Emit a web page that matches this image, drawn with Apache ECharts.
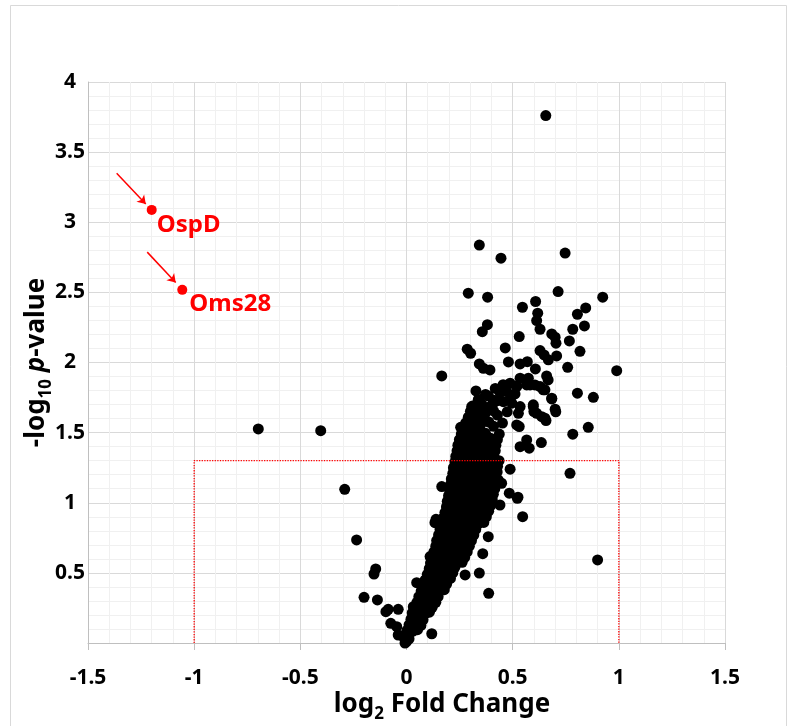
<!DOCTYPE html>
<html><head><meta charset="utf-8">
<script src="https://cdn.jsdelivr.net/npm/echarts@6/dist/echarts.min.js"></script>
<style>html,body{margin:0;padding:0;background:#fff}#chart{width:788px;height:726px}</style>
</head><body><div id="chart"></div>
<script>
// ---------------- DATA ----------------
const xRange = [-1.5, 1.5];
const yRange = [0, 4];
const tickStep = 0.5;

// highlighted proteins
const redNames = ['OspD', 'Oms28'];
const redX = [-1.20, -1.056];
const redY = [3.088, 2.518];
// annotation arrows (data coordinates)
const arrowFrom = [[-1.365, 3.35], [-1.221, 2.787]];
const arrowTo = [[-1.228, 3.13], [-1.087, 2.57]];

// significance box (p = 0.05, |log2FC| = 1)
const boxPath = [[-1, 0], [-1, 1.3], [1, 1.3], [1, 0]];

// isolated proteins
const outlierPoints = [
  [0.656,3.761],[0.343,2.837],[0.445,2.744],[0.747,2.78],
  [0.291,2.494],[0.382,2.466],[0.714,2.506],[0.924,2.466],[0.608,2.435],[0.546,2.394],
  [0.844,2.389],[0.805,2.344],[0.618,2.352],[0.613,2.299],[0.381,2.27],[0.357,2.22],
  [0.629,2.237],[0.838,2.261],[0.783,2.237],[0.531,2.185],[0.684,2.204],[0.7,2.18],
  [0.704,2.138],[0.767,2.154],[0.817,2.08],[0.465,2.104],[0.286,2.095],[0.302,2.066],
  [0.629,2.085],[0.648,2.054],[0.668,2.019],[0.707,2.047],[0.48,2.004],[0.535,1.99],
  [0.569,2.006],[0.343,1.99],[0.362,1.959],[0.393,1.947],[0.759,1.966],[0.99,1.942],
  [0.166,1.904],[0.607,1.954],[0.66,1.904],[0.667,1.876],[0.535,1.888],[0.574,1.888],
  [0.488,1.852],[0.519,1.833],[0.327,1.797],[0.385,1.762],[0.605,1.84],[0.629,1.828],
  [0.652,1.805],[0.472,1.792],[0.511,1.776],[0.805,1.781],[0.88,1.752],[0.684,1.74],
  [0.307,1.686],[0.354,1.705],[0.409,1.71],[0.456,1.721],[0.496,1.71],[0.535,1.686],
  [0.597,1.698],[0.7,1.667],[0.703,1.648],[0.6,1.65],[0.637,1.614],[0.657,1.586],
  [0.856,1.538],[0.783,1.489],[0.566,1.448],[0.578,1.389],[0.535,1.4],[0.635,1.429],
  [0.77,1.21],[0.525,1.04],[0.547,0.901],[0.9,0.592],[0.566,1.84],
  [0.519,1.828],[0.582,1.84],[0.644,1.805],[0.684,1.745],[0.597,1.686],[0.613,1.638],
  [0.652,1.603],[0.488,1.733],[0.527,1.638],[0.519,1.555],[0.409,1.733],[0.346,1.698],
  [0.255,1.538],[0.531,1.543],[0.488,1.239],[0.484,1.068],[0.522,1.032],[0.432,1.163],
  [0.448,1.139],[0.44,0.984],[0.166,1.115],[0.139,0.882],[0.134,0.858],[0.385,0.758],
  [0.359,0.637],[0.343,0.499],[0.387,0.354],[0.276,0.485],[0.119,0.066],[0.111,0.616],
  [0.048,0.43],[0.032,0.259],[0.032,0.21],
  [-0.698,1.526],[-0.404,1.514],[-0.291,1.096],[-0.235,0.735],[-0.145,0.528],[-0.153,0.492],
  [-0.2,0.326],[-0.137,0.307],[-0.097,0.223],[-0.086,0.24],[-0.039,0.24],[-0.074,0.14],
  [-0.046,0.116],[-0.015,0.045],[0.016,0.071],[-0.039,0.057],[-0.007,0.0],[0.0,0.01]
];

// dense main cloud
const clusterPoints = [
  [-0.004,0.02],[0.012,0.03],
  [0.002,0.09],[0.031,0.085],[0.052,0.095],
  [0.012,0.13],[0.041,0.135],[0.068,0.125],
  [0.021,0.17],[0.049,0.175],[0.078,0.165],
  [0.027,0.215],[0.058,0.205],[0.088,0.21],[0.108,0.22],
  [0.038,0.25],[0.066,0.255],[0.097,0.245],[0.121,0.255],
  [0.049,0.29],[0.079,0.295],[0.108,0.285],[0.138,0.29],
  [0.058,0.33],[0.088,0.335],[0.118,0.325],[0.149,0.33],
  [0.069,0.37],[0.098,0.375],[0.128,0.365],[0.157,0.37],[0.178,0.38],
  [0.079,0.41],[0.108,0.415],[0.139,0.405],[0.168,0.41],[0.189,0.42],
  [0.088,0.45],[0.119,0.455],[0.148,0.445],[0.178,0.45],[0.207,0.46],
  [0.098,0.49],[0.128,0.495],[0.159,0.485],[0.188,0.49],[0.218,0.5],
  [0.107,0.53],[0.138,0.535],[0.168,0.525],[0.199,0.53],[0.228,0.54],
  [0.113,0.57],[0.147,0.575],[0.178,0.565],[0.209,0.57],[0.238,0.58],[0.262,0.575],
  [0.121,0.61],[0.152,0.615],[0.187,0.605],[0.218,0.61],[0.248,0.62],[0.274,0.61],
  [0.129,0.65],[0.161,0.655],[0.192,0.645],[0.227,0.65],[0.258,0.66],[0.286,0.65],
  [0.138,0.69],[0.169,0.695],[0.201,0.685],[0.236,0.69],[0.267,0.7],[0.296,0.69],
  [0.142,0.73],[0.177,0.735],[0.209,0.725],[0.246,0.73],[0.278,0.74],[0.306,0.73],
  [0.151,0.77],[0.183,0.775],[0.218,0.765],[0.255,0.77],[0.287,0.78],[0.317,0.77],
  [0.158,0.81],[0.191,0.815],[0.227,0.805],[0.261,0.81],[0.296,0.82],[0.326,0.81],
  [0.166,0.85],[0.199,0.855],[0.236,0.845],[0.269,0.85],[0.307,0.86],[0.338,0.85],[0.364,0.86],
  [0.172,0.89],[0.208,0.895],[0.241,0.885],[0.278,0.89],[0.311,0.9],[0.347,0.89],[0.376,0.9],
  [0.181,0.93],[0.217,0.935],[0.249,0.925],[0.287,0.93],[0.319,0.94],[0.356,0.93],[0.387,0.94],
  [0.188,0.97],[0.222,0.975],[0.258,0.965],[0.291,0.97],[0.328,0.98],[0.361,0.97],[0.396,0.98],
  [0.192,1.01],[0.228,1.015],[0.262,1.005],[0.298,1.01],[0.337,1.02],[0.369,1.01],[0.404,1.02],
  [0.198,1.05],[0.232,1.055],[0.268,1.045],[0.302,1.05],[0.341,1.06],[0.378,1.05],[0.409,1.06],
  [0.203,1.09],[0.238,1.095],[0.272,1.085],[0.309,1.09],[0.348,1.1],[0.382,1.09],[0.416,1.1],
  [0.207,1.13],[0.243,1.135],[0.279,1.125],[0.314,1.13],[0.352,1.14],[0.388,1.13],[0.419,1.14],
  [0.211,1.17],[0.248,1.175],[0.283,1.165],[0.319,1.17],[0.358,1.18],[0.391,1.17],[0.422,1.18],
  [0.218,1.21],[0.252,1.215],[0.289,1.205],[0.323,1.21],[0.361,1.22],[0.398,1.21],[0.427,1.22],
  [0.221,1.25],[0.258,1.255],[0.292,1.245],[0.331,1.25],[0.368,1.26],[0.402,1.25],[0.429,1.26],
  [0.228,1.29],[0.262,1.295],[0.298,1.285],[0.337,1.29],[0.371,1.3],[0.408,1.29],[0.436,1.3],
  [0.232,1.33],[0.268,1.335],[0.306,1.325],[0.342,1.33],[0.378,1.34],[0.412,1.33],
  [0.238,1.37],[0.272,1.375],[0.311,1.365],[0.348,1.37],[0.383,1.38],[0.418,1.37],
  [0.242,1.41],[0.279,1.415],[0.317,1.405],[0.352,1.41],[0.388,1.42],[0.421,1.41],
  [0.249,1.45],[0.287,1.455],[0.322,1.445],[0.358,1.45],[0.396,1.46],[0.428,1.45],
  [0.258,1.49],[0.294,1.5],[0.331,1.482],[0.372,1.495],[0.437,1.49],
  [0.268,1.53],[0.305,1.54],[0.345,1.522],[0.41,1.545],
  [0.279,1.57],[0.314,1.58],[0.351,1.562],[0.388,1.575],[0.452,1.568],
  [0.291,1.61],[0.324,1.62],[0.362,1.602],[0.428,1.625],
  [0.301,1.652],[0.336,1.66],[0.372,1.64],[0.41,1.655],[0.474,1.648],
  [0.315,1.692],[0.352,1.7],[0.394,1.686],
  [0.338,1.735],[0.428,1.728],
  [0.372,1.772],[0.441,1.786],
  [0.418,1.815],[0.455,1.842]
];

// ---------------- CHART ----------------
const FONT = "'Noto Sans', 'Open Sans', sans-serif";
const chart = echarts.init(document.getElementById('chart'), null, {renderer: 'canvas'});

const redLabelOffsets = [[5, 15], [7, 14]];
const redData = redNames.map((n, i) => ({
  name: n, value: [redX[i], redY[i]],
  label: {offset: redLabelOffsets[i]}
}));

const axisCommon = {
  type: 'value',
  interval: tickStep,
  axisLine: {show: true, onZero: false, lineStyle: {color: '#bfbfbf', width: 1}},
  splitLine: {show: true, lineStyle: {color: '#d9d9d9', width: 1}},
  minorTick: {show: false, splitNumber: 5},
  minorSplitLine: {show: true, lineStyle: {color: '#f0f0f0', width: 1}},
};

const option = {
  animation: false,
  backgroundColor: '#ffffff',
  grid: {left: 88, right: 63, top: 82, bottom: 83},
  title: {
    left: 437, top: 682, textAlign: 'center',
    text: '{a|log}{s|2}{a| Fold Change}',
    textStyle: {
      rich: {
        a: {fontFamily: FONT, fontWeight: 'bold', fontSize: 26, color: '#000', lineHeight: 30},
        s: {fontFamily: FONT, fontWeight: 'bold', fontSize: 17, color: '#000', lineHeight: 36, verticalAlign: 'bottom'}
      }
    }
  },
  xAxis: Object.assign({}, axisCommon, {
    min: xRange[0], max: xRange[1],
    axisTick: {show: true, length: 7, lineStyle: {color: '#bfbfbf'}},
    axisLabel: {fontFamily: FONT, fontWeight: 'bold', fontSize: 21, color: '#000', margin: 25}
  }),
  yAxis: Object.assign({}, axisCommon, {
    min: yRange[0], max: yRange[1],
    axisTick: {show: false},
    axisLabel: {
      fontFamily: FONT, fontWeight: 'bold', fontSize: 21, color: '#000',
      margin: 18, align: 'center',
      formatter: v => (v === 0 ? '' : String(v))
    },
    name: '{a|-log}{s|10}{a| }{i|p}{a|-value}',
    nameLocation: 'middle',
    nameRotate: 90,
    nameGap: 33,
    nameMoveOverlap: false,
    nameTextStyle: {
      rich: {
        a: {fontFamily: FONT, fontWeight: 'bold', fontSize: 26, color: '#000', lineHeight: 30},
        i: {fontFamily: FONT, fontWeight: 'bold', fontStyle: 'italic', fontSize: 26, color: '#000', lineHeight: 30},
        s: {fontFamily: FONT, fontWeight: 'bold', fontSize: 17, color: '#000', lineHeight: 36, verticalAlign: 'bottom'}
      }
    }
  }),
  graphic: [{
    type: 'rect', z: -10, silent: true,
    shape: {x: 10.5, y: 5.5, width: 776, height: 760},
    style: {fill: 'none', stroke: '#d9d9d9', lineWidth: 1}
  }],
  series: [
    {
      type: 'scatter', name: 'proteins',
      data: clusterPoints.concat(outlierPoints),
      symbol: 'circle', symbolSize: 11,
      itemStyle: {color: '#000000', opacity: 1},
      z: 2
    },
    {
      type: 'line', name: 'threshold',
      data: boxPath, showSymbol: false, symbol: 'none',
      lineStyle: {color: '#ff0000', type: 'dotted', width: 1.3},
      silent: true, z: 3
    },
    {
      type: 'scatter', name: 'highlight',
      data: redData,
      symbol: 'circle', symbolSize: 10,
      itemStyle: {color: '#ff0000', opacity: 1},
      label: {
        show: true, position: 'inside', align: 'left', verticalAlign: 'middle',
        formatter: p => p.name,
        fontFamily: FONT, fontWeight: 'bold', fontSize: 24, color: '#ff0000'
      },
      markLine: {
        silent: true, animation: false,
        symbol: ['none', 'arrow'], symbolSize: 8,
        label: {show: false},
        lineStyle: {color: '#ff0000', width: 1.5, type: 'solid', opacity: 1},
        data: arrowFrom.map((f, i) => [{coord: f}, {coord: arrowTo[i]}])
      },
      z: 4
    }
  ]
};
chart.setOption(option);
</script>
</body></html>
